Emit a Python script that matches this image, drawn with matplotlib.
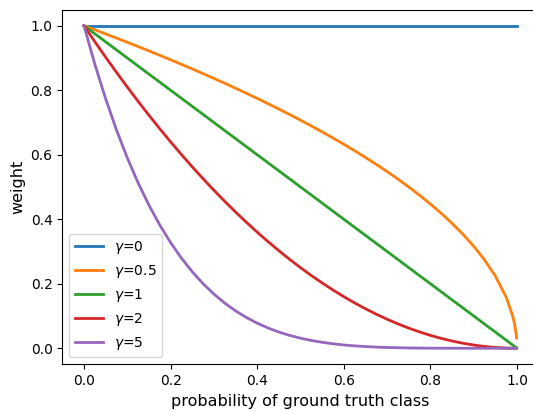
import matplotlib
matplotlib.use("Agg")
import matplotlib.pyplot as plt

# probabilidad de la clase verdadera
p = [0.0, 0.025, 0.05, 0.075, 0.1, 0.125, 0.15, 0.175, 0.2, 0.225, 0.25, 0.275,
     0.3, 0.325, 0.35, 0.375, 0.4, 0.425, 0.45, 0.475, 0.5, 0.525, 0.55, 0.575,
     0.6, 0.625, 0.65, 0.675, 0.7, 0.725, 0.75, 0.775, 0.8, 0.825, 0.85, 0.875,
     0.9, 0.925, 0.95, 0.975, 0.99, 0.995, 0.999]

gammas = ["0", "0.5", "1", "2", "5"]

peso_g0 = [1.0] * len(p)
peso_g05 = [1.0, 0.9874, 0.9747, 0.9618, 0.9487, 0.9354, 0.9220, 0.9083, 0.8944,
            0.8803, 0.8660, 0.8515, 0.8367, 0.8216, 0.8062, 0.7906, 0.7746, 0.7583,
            0.7416, 0.7246, 0.7071, 0.6892, 0.6708, 0.6519, 0.6325, 0.6124, 0.5916,
            0.5701, 0.5477, 0.5244, 0.5, 0.4743, 0.4472, 0.4183, 0.3873, 0.3536,
            0.3162, 0.2739, 0.2236, 0.1581, 0.1, 0.0707, 0.0316]
peso_g1 = [1.0, 0.975, 0.95, 0.925, 0.9, 0.875, 0.85, 0.825, 0.8, 0.775, 0.75,
           0.725, 0.7, 0.675, 0.65, 0.625, 0.6, 0.575, 0.55, 0.525, 0.5, 0.475,
           0.45, 0.425, 0.4, 0.375, 0.35, 0.325, 0.3, 0.275, 0.25, 0.225, 0.2,
           0.175, 0.15, 0.125, 0.1, 0.075, 0.05, 0.025, 0.01, 0.005, 0.001]
peso_g2 = [1.0, 0.9506, 0.9025, 0.8556, 0.81, 0.7656, 0.7225, 0.6806, 0.64, 0.6006,
           0.5625, 0.5256, 0.49, 0.4556, 0.4225, 0.3906, 0.36, 0.3306, 0.3025,
           0.2756, 0.25, 0.2256, 0.2025, 0.1806, 0.16, 0.1406, 0.1225, 0.1056, 0.09,
           0.0756, 0.0625, 0.0506, 0.04, 0.0306, 0.0225, 0.0156, 0.01, 0.0056,
           0.0025, 0.0006, 0.0001, 0.0, 0.0]
peso_g5 = [1.0, 0.8811, 0.7738, 0.6772, 0.5905, 0.5129, 0.4437, 0.3822, 0.3277,
           0.2796, 0.2373, 0.2003, 0.1681, 0.1401, 0.1160, 0.0954, 0.0778, 0.0629,
           0.0503, 0.0399, 0.0312, 0.0242, 0.0185, 0.0139, 0.0102, 0.0074, 0.0053,
           0.0036, 0.0024, 0.0016, 0.0010, 0.0006, 0.0003, 0.0002, 0.0001, 0.0,
           0.0, 0.0, 0.0, 0.0, 0.0, 0.0, 0.0]

pesos = [peso_g0, peso_g05, peso_g1, peso_g2, peso_g5]

fig = plt.figure(figsize=(5.33, 4.11), dpi=100)
ax = fig.add_axes([0.1169, 0.1134, 0.8938, 0.8633])

for g, w in zip(gammas, pesos):
    ax.plot(p, w, lw=2, label=r"$\gamma$=" + g)

ax.set_xlim(-0.05, 1.05)
ax.set_ylim(-0.05, 1.05)
ax.set_xticks([0.0, 0.2, 0.4, 0.6, 0.8, 1.0])
ax.set_yticks([0.0, 0.2, 0.4, 0.6, 0.8, 1.0])
ax.tick_params(labelsize=10)
ax.set_xlabel("probability of ground truth class", fontsize=11.5)
ax.set_ylabel("weight", fontsize=11.5)
ax.legend(loc="lower left", fontsize=10)

fig.savefig("out.png", dpi=100)
